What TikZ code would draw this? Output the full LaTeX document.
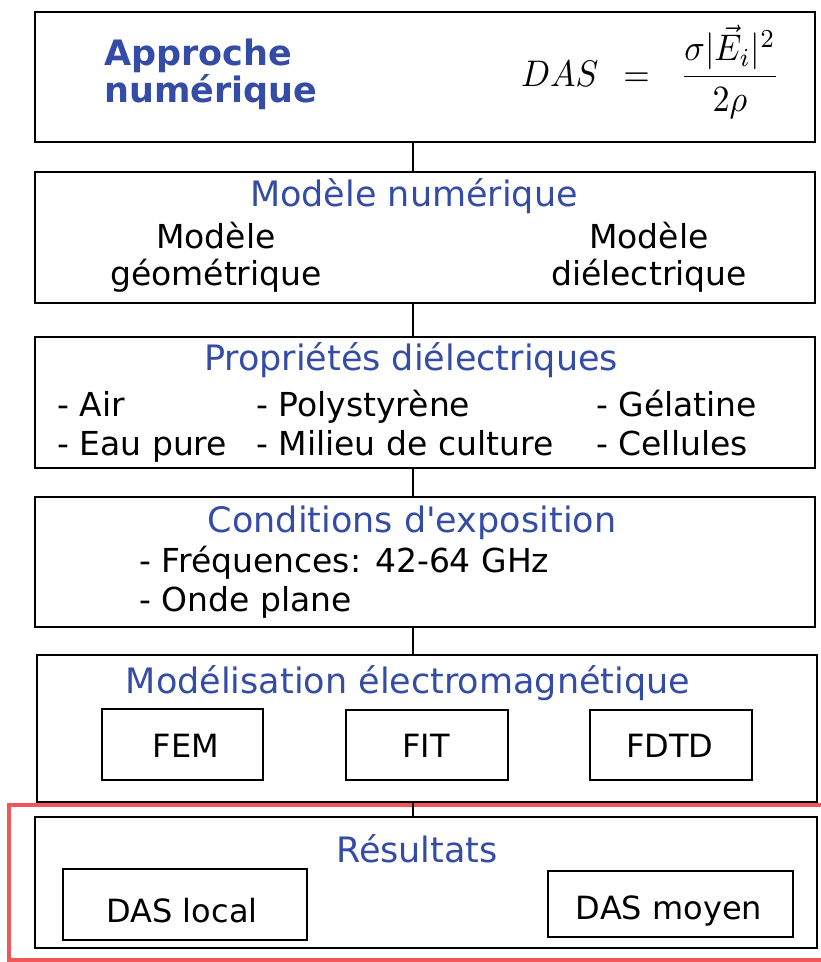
\documentclass[tikz,border=0pt]{standalone}
\usepackage[no-math]{fontspec}
\setmainfont{DejaVu Sans}[Ligatures=TeXOff]
\usepackage{amsmath}
\usepackage{graphicx}
\definecolor{ttlblue}{RGB}{52,76,166}
\definecolor{hlred}{RGB}{242,86,86}
\begin{document}
\begin{tikzpicture}[x=1pt,y=-1pt,
  bigbox/.style={draw, line width=2.6pt, inner sep=0pt, rectangle},
  smallbox/.style={draw, line width=2.6pt, inner sep=0pt, rectangle},
  ttl/.style={text=ttlblue, font=\fontsize{35}{40}\selectfont, inner sep=0pt, anchor=base},
  txt/.style={font=\fontsize{33}{40}\selectfont, inner sep=0pt, anchor=base west},
  ctxt/.style={font=\fontsize{33}{40}\selectfont, inner sep=0pt, anchor=base},
  btxt/.style={font=\fontsize{32}{40}\selectfont, inner sep=0pt, anchor=base},
  hdr/.style={text=ttlblue, font=\fontsize{35}{40}\selectfont\bfseries, inner sep=0pt, anchor=base west},
  link/.style={line width=2.2pt}]
\useasboundingbox (0,0) rectangle (821,962);
\coordinate (axis) at (413,0);

% highlight frame
\draw[hlred, line width=4.5pt] (830,805) -- (9,805) -- (9,960) -- (830,960);

% boxes
\node[bigbox, minimum width=780, minimum height=130] (b1) at (425,77) {};
\node[bigbox, minimum width=780, minimum height=131] (b2) at (425,237.5) {};
\node[bigbox, minimum width=780, minimum height=131] (b3) at (425,402.5) {};
\node[bigbox, minimum width=780, minimum height=130] (b4) at (425,562) {};
\node[bigbox, minimum width=780, minimum height=147] (b5) at (427,728.5) {};
\node[bigbox, minimum width=782, minimum height=131] (b6) at (426,882.5) {};

\node[smallbox, minimum width=161, minimum height=71] (fem) at (182.5,744.5) {};
\node[smallbox, minimum width=162, minimum height=70] (fit) at (427,745) {};
\node[smallbox, minimum width=162, minimum height=70] (fdtd) at (671,745) {};
\node[smallbox, minimum width=244, minimum height=71] (dasl) at (185,904.5) {};
\node[smallbox, minimum width=245, minimum height=66] (dasm) at (670.5,904) {};

% connectors
\draw[link] (b1.south -| axis) -- (b2.north -| axis);
\draw[link] (b2.south -| axis) -- (b3.north -| axis);
\draw[link] (b3.south -| axis) -- (b4.north -| axis);
\draw[link] (b4.south -| axis) -- (b5.north -| axis);
\draw[link] (b5.south -| axis) -- (b6.north -| axis);

% box 1
\node[hdr] (t1a) at (104,65) {Approche};
\node[hdr] (t1b) at (104,102) {numérique};
\node[inner sep=0pt, anchor=base west] (eq) at (521,86)
  {\scalebox{3.4}[3.7]{$DAS\hspace{4.5pt}=\hspace{6.2pt}\dfrac{\sigma|\vec{E}_i|^2}{2\rho}$}};

% box 2
\node[ttl] (t2) at (414,206) {Modèle numérique};
\node[ctxt] (m1a) at (216,248) {Modèle};
\node[ctxt] (m1b) at (216,285) {géométrique};
\node[ctxt] (m2a) at (649,248) {Modèle};
\node[ctxt] (m2b) at (649,285) {diélectrique};

% box 3
\node[ttl] (t3) at (411,370) {Propriétés diélectriques};
\node[txt] (p1) at (57,416) {- Air};
\node[txt] (p2) at (256,416) {- Polystyrène};
\node[txt] (p3) at (596,416) {- Gélatine};
\node[txt] (p4) at (57,455) {- Eau pure};
\node[txt] (p5) at (256,455) {- Milieu de culture};
\node[txt] (p6) at (596,455) {- Cellules};

% box 4
\node[ttl] (t4) at (412,532) {Conditions d'exposition};
\node[txt] (c1) at (139,572) {- Fréquences: 42-64 GHz};
\node[txt] (c2) at (139,611) {- Onde plane};

% box 5
\node[ttl] (t5) at (408,693) {Modélisation électromagnétique};
\node[btxt] (l1) at (186,757) {FEM};
\node[btxt] (l2) at (426,757) {FIT};
\node[btxt] (l3) at (670,757) {FDTD};

% box 6
\node[ttl] (t6) at (417,862) {Résultats};
\node[btxt] (l4) at (182,922) {DAS local};
\node[btxt] (l5) at (669,919) {DAS moyen};
\end{tikzpicture}
\end{document}
